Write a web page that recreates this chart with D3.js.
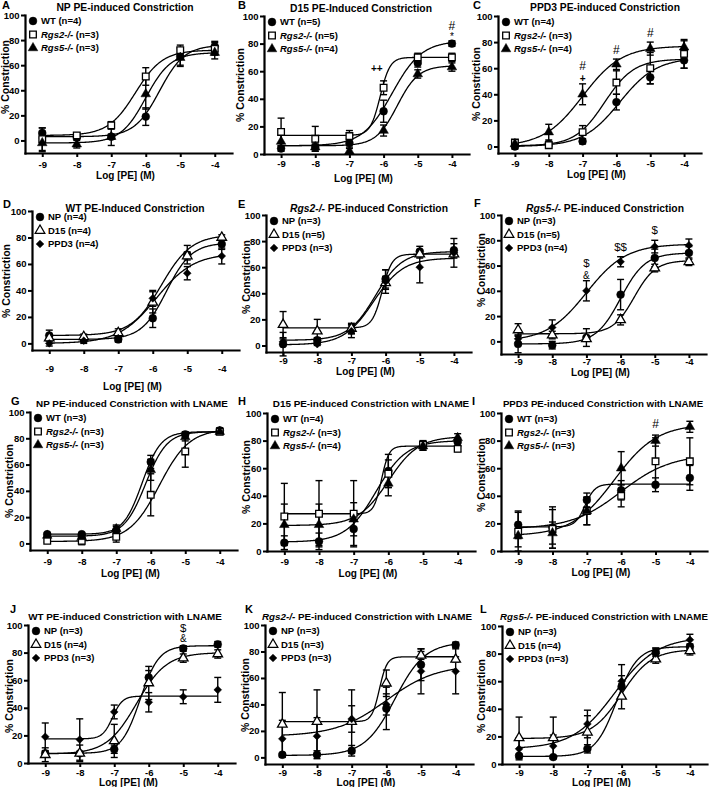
<!DOCTYPE html>
<html><head><meta charset="utf-8">
<script src="https://cdn.jsdelivr.net/npm/d3@7"></script>
<style>
body{margin:0;background:#fff}
svg{display:block}
text{font-family:"Liberation Sans",Arial,Helvetica,sans-serif}
</style>
</head><body>
<svg id="c" width="709" height="787"></svg>
<script>
// ---------- DATA ----------
const doses = [-9, -8, -7, -6, -5, -4];
const xTicks = [-9, -8, -7, -6, -5, -4];
const yTicks = [0, 20, 40, 60, 80, 100];

// mean % constriction and SEM, by condition / genotype (no LNAME)
const npWT = [6, 3, 3, 19, 67, 75],      npWTe = [4, 2, 2, 7, 7, 4];
const npRgs2 = [1, 4, 12, 51, 72, 73],   npRgs2e = [9, 2, 3, 7, 4, 5];
const npRgs5 = [-2, -3, 3, 37, 66, 70],  npRgs5e = [7, 3, 7, 12, 7, 5];
const d15WT = [4, 5, 8, 31, 66, 80],     d15WTe = [2, 2, 3, 8, 3, 2];
const d15Rgs2 = [16, 11, 13, 48, 70, 70], d15Rgs2e = [10, 9, 4, 5, 3, 3];
const d15Rgs5 = [9, 5, 2, 17, 58, 63],   d15Rgs5e = [5, 3, 2, 4, 3, 3];
const ppWT = [0, 2, 4, 34, 53, 66],      ppWTe = [2, 2, 2, 6, 5, 6];
const ppRgs2 = [3, 1, 11, 49, 60, 71],   ppRgs2e = [2, 1, 5, 9, 12, 11];
const ppRgs5 = [2, 11, 40, 63, 75, 76],  ppRgs5e = [3, 6, 8, 4, 5, 5];
// with LNAME
const npWTL = [7, 7, 10, 62, 83, 86],    npWTLe = [1, 1, 3, 5, 2, 2];
const npRgs2L = [2, 2, 5, 37, 70, 85],   npRgs2Le = [1, 3, 4, 16, 12, 2];
const npRgs5L = [6, 5, 11, 56, 81, 85],  npRgs5Le = [1, 1, 3, 8, 3, 2];
const d15WTL = [6, 7, 16, 58, 76, 79],   d15WTLe = [5, 6, 12, 12, 3, 3];
const d15Rgs2L = [25, 27, 27, 56, 77, 74], d15Rgs2Le = [24, 24, 24, 10, 3, 2];
const d15Rgs5L = [19, 19, 23, 49, 76, 82], d15Rgs5Le = [15, 15, 12, 9, 3, 3];
const ppWTL = [19, 17, 37, 44, 48, 53],  ppWTLe = [10, 15, 5, 7, 5, 9];
const ppRgs2L = [14, 16, 29, 40, 65, 65], ppRgs2Le = [14, 14, 10, 8, 17, 17];
const ppRgs5L = [11, 13, 29, 60, 80, 90], ppRgs5Le = [8, 8, 10, 12, 4, 4];

// fitted curve parameters [bottom, top, logEC50, Hill slope]
const npWTfit = [3, 76, -5.6, 1.2];
const npRgs2fit = [4, 72, -6.3, 1.1];
const npRgs5fit = [-2, 70, -6.0, 1.2];
const d15WTfit = [6, 82, -5.75, 1.0];
const d15Rgs2fit = [13.5, 70, -6.1, 3];
const d15Rgs5fit = [6, 64, -5.6, 1.4];
const ppWTfit = [0, 68, -5.9, 0.8];
const ppRgs2fit = [0.5, 67, -6.35, 1.0];
const ppRgs5fit = [0, 77, -7.0, 0.75];
const npWTLfit = [7, 85, -6.25, 1.6];
const npRgs2Lfit = [1.5, 87, -5.75, 1.0];
const npRgs5Lfit = [5.5, 85, -6.15, 1.4];
const d15WTLfit = [6.5, 80, -6.35, 1.0];
const d15Rgs2Lfit = [27, 76, -6.2, 4];
const d15Rgs5Lfit = [18.5, 83, -6.0, 1.0];
const ppWTLfit = [17.5, 48.5, -7.05, 3];
const ppRgs2Lfit = [16, 70, -6.0, 0.6];
const ppRgs5Lfit = [11, 92, -6.2, 0.7];

// panel letters and titles
const letters = ["A","B","C","D","E","F","G","H","I","J","K","L"];
const titleItalic = ["", "", "", "", "Rgs2-/-", "Rgs5-/-", "", "", "", "", "Rgs2-/-", "Rgs5-/-"];
const titleText = [
  "NP PE-induced Constriction", "D15 PE-Induced Constriction", "PPD3 PE-induced Constriction",
  "WT PE-Induced Constriction", " PE-induced Constriction", " PE-induced Constriction",
  "NP PE-induced Constriction with LNAME", "D15 PE-induced Constriction with LNAME", "PPD3 PE-induced Constriction with LNAME",
  "WT PE-induced Constriction with LNAME", " PE-induced Constriction with LNAME", " PE-induced Constriction with LNAME"];

// series per panel: [legend name, n, marker, mean, sem, fit]
const S = (name, n, mk, m, e, f) => ({name, n, mk, m, e, f});
const panelSeries = [
  [S("WT",4,"circle",npWT,npWTe,npWTfit), S("Rgs2-/-",3,"square",npRgs2,npRgs2e,npRgs2fit), S("Rgs5-/-",3,"triangle",npRgs5,npRgs5e,npRgs5fit)],
  [S("WT",5,"circle",d15WT,d15WTe,d15WTfit), S("Rgs2-/-",5,"square",d15Rgs2,d15Rgs2e,d15Rgs2fit), S("Rgs5-/-",4,"triangle",d15Rgs5,d15Rgs5e,d15Rgs5fit)],
  [S("WT",4,"circle",ppWT,ppWTe,ppWTfit), S("Rgs2-/-",3,"square",ppRgs2,ppRgs2e,ppRgs2fit), S("Rgs5-/-",4,"triangle",ppRgs5,ppRgs5e,ppRgs5fit)],
  [S("NP",4,"circle",npWT,npWTe,npWTfit), S("D15",4,"triOpen",d15WT,d15WTe,d15WTfit), S("PPD3",4,"diamond",ppWT,ppWTe,ppWTfit)],
  [S("NP",3,"circle",npRgs2,npRgs2e,npRgs2fit), S("D15",5,"triOpen",d15Rgs2,d15Rgs2e,d15Rgs2fit), S("PPD3",3,"diamond",ppRgs2,ppRgs2e,ppRgs2fit)],
  [S("NP",3,"circle",npRgs5,npRgs5e,npRgs5fit), S("D15",5,"triOpen",d15Rgs5,d15Rgs5e,d15Rgs5fit), S("PPD3",4,"diamond",ppRgs5,ppRgs5e,ppRgs5fit)],
  [S("WT",3,"circle",npWTL,npWTLe,npWTLfit), S("Rgs2-/-",3,"square",npRgs2L,npRgs2Le,npRgs2Lfit), S("Rgs5-/-",3,"triangle",npRgs5L,npRgs5Le,npRgs5Lfit)],
  [S("WT",4,"circle",d15WTL,d15WTLe,d15WTLfit), S("Rgs2-/-",3,"square",d15Rgs2L,d15Rgs2Le,d15Rgs2Lfit), S("Rgs5-/-",4,"triangle",d15Rgs5L,d15Rgs5Le,d15Rgs5Lfit)],
  [S("WT",3,"circle",ppWTL,ppWTLe,ppWTLfit), S("Rgs2-/-",3,"square",ppRgs2L,ppRgs2Le,ppRgs2Lfit), S("Rgs5-/-",3,"triangle",ppRgs5L,ppRgs5Le,ppRgs5Lfit)],
  [S("NP",3,"circle",npWTL,npWTLe,npWTLfit), S("D15",4,"triOpen",d15WTL,d15WTLe,d15WTLfit), S("PPD3",3,"diamond",ppWTL,ppWTLe,ppWTLfit)],
  [S("NP",3,"circle",npRgs2L,npRgs2Le,npRgs2Lfit), S("D15",3,"triOpen",d15Rgs2L,d15Rgs2Le,d15Rgs2Lfit), S("PPD3",3,"diamond",ppRgs2L,ppRgs2Le,ppRgs2Lfit)],
  [S("NP",3,"circle",npRgs5L,npRgs5Le,npRgs5Lfit), S("D15",4,"triOpen",d15Rgs5L,d15Rgs5Le,d15Rgs5Lfit), S("PPD3",3,"diamond",ppRgs5L,ppRgs5Le,ppRgs5Lfit)]
];

// significance marks: [panel index, log dose, % value, symbol]
const marks = [
  [1, -6.2, 62, "++"], [1, -4, 93, "#"], [1, -4, 85, "*"],
  [2, -7, 62, "#"], [2, -7, 52, "+"], [2, -6, 74, "#"], [2, -5, 87, "#"],
  [5, -7, 62, "$"], [5, -7, 52, "&"], [5, -6, 75, "$$"], [5, -5, 88, "$"],
  [8, -5, 92, "#"],
  [9, -5, 98, "$"], [9, -5, 90, "&"]
];
const yMins = [-10, 0, -5, -5, -5, -10, -5, 0, 0, 0, -5, 0];

// ---------- LAYOUT ----------
// [left, right, top, bottom, tickLabelY, xTitleY, yTitleX, yTitleY, titleX, titleY, letterX, letterY, titleSize]
const layout = [
  [25, 232, 15, 153, 165, 175, 5, 77, 125, 7, 2, 5, 10.3],
  [264, 469, 16, 154, 164, 178, 240, 85, 361, 8, 238, 5, 10.3],
  [498, 701, 16, 153, 164, 174, 476, 84, 605, 7, 473, 5, 10.3],
  [32, 239, 211, 350, 369, 386, 6, 281, 135, 208, 3, 204, 10.3],
  [266, 471, 215, 352, 361, 371, 246, 277, 369, 208, 238, 204, 10.3],
  [501, 706, 215, 354, 362, 372, 481, 270, 605, 208, 474, 203, 10.3],
  [30, 237, 412, 550, 562, 573, 9, 481, 132, 404, 11, 401, 9.9],
  [267, 475, 413, 551, 562, 573, 246, 477, 371, 404, 238, 401, 9.9],
  [501, 707, 413, 551, 562, 572, 481, 475, 603, 404, 472, 401, 9.7],
  [28, 235, 625, 763, 773, 782, 9, 696, 125, 617, 10, 609, 9.9],
  [265, 473, 625, 764, 773, 782, 245, 695, 367, 617, 245, 609, 9.8],
  [502, 707, 626, 764, 773, 782, 481, 696, 604, 617, 480, 609, 9.7]
];

const svg = d3.select("#c");
const FONT = '"Liberation Sans",Arial,Helvetica,sans-serif';

function symbolPath(mk) {
  if (mk === "circle") return d3.symbol(d3.symbolCircle, 48)();
  if (mk === "square") return d3.symbol(d3.symbolSquare, 44)();
  if (mk === "triangle" || mk === "triOpen") return d3.symbol(d3.symbolTriangle, 40)();
  if (mk === "diamond") return d3.symbol(d3.symbolSquare, 30)();
}
function drawMarker(g, mk, cx, cy) {
  const open = (mk === "square" || mk === "triOpen");
  g.append("path")
    .attr("d", symbolPath(mk))
    .attr("transform", `translate(${cx},${cy})` + (mk === "diamond" ? " rotate(45)" : ""))
    .attr("fill", open ? "#fff" : "#000")
    .attr("stroke", "#000")
    .attr("stroke-width", open ? 1.3 : 0.5);
}

panelSeries.forEach((series, pi) => {
  const [left, right, top, bottom, tly, xty, ytx, yty, tx, ty, lx, ly, tsize] = layout[pi];
  const x = d3.scaleLinear().domain([-9.5, -3.5]).range([left, right]);
  const y = d3.scaleLinear().domain([yMins[pi], 100]).range([bottom, top]);
  const g = svg.append("g");

  // curves
  const line = d3.line().x(d => x(d[0])).y(d => y(d[1]));
  const xs = d3.range(-9, -3.999, 0.02);
  series.forEach(s => {
    const [b, t, ec, h] = s.f;
    const pts = xs.map(v => [v, b + (t - b) / (1 + Math.pow(10, (ec - v) * h))]);
    g.append("path").attr("d", line(pts)).attr("fill", "none")
      .attr("stroke", "#000").attr("stroke-width", 1.3);
  });

  // error bars
  series.forEach(s => {
    doses.forEach((d, k) => {
      const cx = x(d), y1 = y(s.m[k] - s.e[k]), y2 = y(s.m[k] + s.e[k]);
      g.append("line").attr("x1", cx).attr("x2", cx).attr("y1", y1).attr("y2", y2)
        .attr("stroke", "#000").attr("stroke-width", 1.4);
      [y1, y2].forEach(yy => g.append("line").attr("x1", cx - 3.5).attr("x2", cx + 3.5)
        .attr("y1", yy).attr("y2", yy).attr("stroke", "#000").attr("stroke-width", 1.4));
    });
  });

  // markers
  series.forEach(s => {
    doses.forEach((d, k) => drawMarker(g, s.mk, x(d), y(s.m[k])));
  });

  // axes
  const xa = g.append("g").attr("transform", `translate(0,${bottom})`)
    .call(d3.axisBottom(x).tickValues(xTicks).tickSize(4).tickSizeOuter(0).tickFormat(d => String(d)));
  const ya = g.append("g").attr("transform", `translate(${left},0)`)
    .call(d3.axisLeft(y).tickValues(yTicks).tickSize(4).tickSizeOuter(0).tickPadding(1.5).tickFormat(d => String(d)));
  [xa, ya].forEach(a => {
    a.select(".domain").attr("stroke-width", 2.2).attr("stroke-linecap", "square");
    a.selectAll(".tick line").attr("stroke-width", 2);
    a.selectAll("text").attr("font-family", FONT).attr("font-weight", "bold")
      .attr("font-size", 9.5).attr("fill", "#000");
  });
  xa.selectAll("text").attr("y", tly - bottom).attr("dy", "0.35em");

  // axis titles
  g.append("text").attr("x", (left + right) / 2 - 3).attr("y", xty).attr("dy", "0.35em")
    .attr("text-anchor", "middle").attr("font-weight", "bold").attr("font-size", 10)
    .text("Log [PE] (M)");
  g.append("text").attr("transform", `translate(${ytx},${yty}) rotate(-90)`).attr("dy", "0.35em")
    .attr("text-anchor", "middle").attr("font-weight", "bold").attr("font-size", 10.5)
    .text("% Constriction");

  // panel title
  const tt = g.append("text").attr("x", tx).attr("y", ty).attr("dy", "0.35em")
    .attr("text-anchor", "middle").attr("font-weight", "bold").attr("font-size", tsize);
  if (titleItalic[pi]) tt.append("tspan").attr("font-style", "italic").text(titleItalic[pi]);
  tt.append("tspan").text(titleText[pi]);
  g.append("text").attr("x", lx).attr("y", ly).attr("dy", "0.35em")
    .attr("font-weight", "bold").attr("font-size", 11).text(letters[pi]);

  // legend
  const rows = [6, 19.5, 33];
  series.forEach((s, j) => {
    const cy = top + rows[j];
    drawMarker(g, s.mk, left + 8, cy);
    const lt = g.append("text").attr("x", left + 16).attr("y", cy).attr("dy", "0.35em")
      .attr("font-weight", "bold").attr("font-size", 9.5);
    lt.append("tspan").attr("font-style", s.name.startsWith("Rgs") ? "italic" : "normal").text(s.name);
    lt.append("tspan").text(` (n=${s.n})`);
  });

  // significance marks
  marks.filter(m => m[0] === pi).forEach(m => {
    const sym = m[3];
    const size = sym.includes("#") ? 12 : (sym.includes("$") ? 11.5 : 10);
    g.append("text").attr("x", x(m[1])).attr("y", y(m[2])).attr("dy", "0.35em")
      .attr("text-anchor", "middle").attr("font-size", size)
      .attr("font-weight", sym.includes("+") ? "bold" : "normal")
      .text(sym);
  });
});
</script>
</body></html>
